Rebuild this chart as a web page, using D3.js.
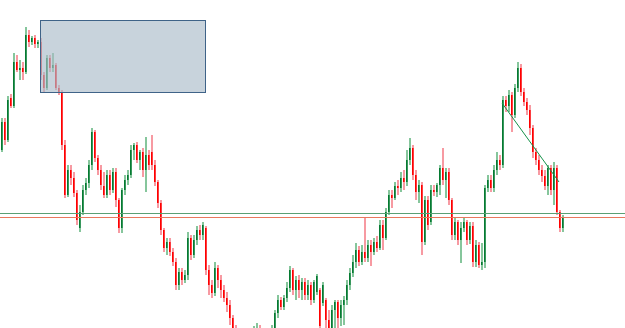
<!DOCTYPE html>
<html>
<head>
<meta charset="utf-8">
<script src="https://cdn.jsdelivr.net/npm/d3@7"></script>
<style>
  html, body { margin: 0; padding: 0; background: #fff; }
  svg { display: block; }
</style>
</head>
<body>
<div id="chart"></div>
<script>
// OHLC per bar, price in points
const open = [250,278,260,302,294,338,330,332,328,365,358,362,356,358,325,312,342,332,335,312,
  308,255,205,230,222,207,172,188,210,217,235,268,242,230,214,205,225,210,228,200,
  172,210,220,225,250,255,240,248,230,245,248,235,218,197,170,152,158,148,138,115,
  128,120,125,162,145,160,170,165,172,130,115,107,132,120,110,102,95,82,72,60,
  55,60,52,55,58,62,65,60,64,60,65,72,87,100,93,102,112,130,110,120,
  110,118,105,115,100,108,110,97,100,80,72,90,98,82,95,100,115,127,138,150,
  138,148,142,155,148,158,152,175,162,188,205,202,214,212,222,218,240,252,225,208,
  215,158,200,178,210,208,215,232,220,228,200,165,178,160,172,178,160,174,138,155,
  135,138,212,220,212,230,240,235,300,294,305,285,312,332,308,298,290,272,248,240,
  230,224,214,232,210,232,188,172]
const close = [278,260,300,294,338,330,332,328,365,358,362,356,358,325,312,342,332,335,312,308,
  255,205,230,222,207,180,188,210,217,235,268,242,230,215,205,225,210,228,200,172,
  210,220,225,250,255,240,248,230,245,235,235,218,197,170,152,158,148,138,115,128,
  120,125,162,145,160,170,165,175,130,115,107,132,120,110,102,95,82,72,60,55,
  60,52,55,58,62,65,60,64,60,65,72,87,100,93,102,112,130,110,120,110,
  118,105,115,100,118,124,74,115,80,72,90,98,82,95,100,115,127,138,150,138,
  148,142,155,148,158,152,175,162,188,205,202,214,212,222,218,240,252,225,208,215,
  158,200,175,210,208,215,232,220,228,200,165,178,160,172,178,160,174,138,155,135,
  138,212,220,212,230,240,235,300,294,305,285,312,332,308,298,290,272,248,240,230,
  224,214,232,210,232,188,172,182]
const high = [282,282,304,306,347,345,340,338,373,370,364,365,360,362,328,345,345,347,337,315,
  310,260,235,235,228,210,195,215,222,240,272,270,245,235,228,230,230,232,232,202,
  212,225,230,255,257,258,250,252,263,250,265,240,220,200,172,162,162,152,142,132,
  132,130,168,165,165,174,175,178,174,135,120,138,135,125,115,108,100,85,75,65,
  64,64,60,65,74,77,75,70,68,70,75,90,105,103,105,118,134,132,124,125,
  122,122,120,118,120,126,112,118,102,90,95,100,100,100,104,120,132,145,157,154,
  155,182,160,160,162,164,180,180,192,210,210,218,220,228,230,250,262,255,230,220,
  218,204,204,215,215,217,235,252,232,232,202,182,180,178,182,180,178,178,160,158,
  157,215,225,225,235,248,245,304,304,310,308,316,338,336,312,302,295,275,252,245,
  235,230,235,235,238,235,190,185]
const low = [248,255,258,292,292,328,320,320,326,353,355,352,352,320,308,310,328,328,310,305,
  250,202,203,215,203,175,168,185,205,212,230,238,225,210,202,202,205,207,193,167,
  167,205,215,222,240,237,230,223,208,230,230,214,192,165,148,145,144,134,110,110,
  115,117,120,140,142,155,160,160,125,105,102,104,112,102,98,88,75,65,55,50,
  48,45,45,50,52,55,55,55,55,55,60,68,82,90,90,98,108,105,100,102,
  100,100,100,95,97,105,70,94,70,65,65,70,72,74,75,95,110,123,132,134,
  135,138,138,134,145,148,150,150,160,185,192,200,205,208,210,214,235,220,200,197,
  145,155,170,175,204,203,205,215,202,195,160,160,155,137,168,155,156,133,133,132,
  130,132,208,208,208,225,230,232,288,288,268,282,308,304,294,285,265,242,235,225,
  218,210,205,205,195,185,168,168]

// horizontal levels
const levelNames = ['support', 'resistance']
const levelValues = [182.7, 186.7]
const levelColors = ['#e8785c', '#5aa074']

// supply zone: bar range and price range
const zoneBars = [13, 68]
const zonePrices = [308, 380]

// trend line: [bar index, price]
const trendPoints = [[167, 297], [186, 218]]

const chartWidth = 625
const chartHeight = 328

const bars = close.map((c, i) => ({ i, o: open[i], h: high[i], l: low[i], c }))

const x = d3.scaleLinear().domain([0, bars.length - 1]).range([1, 562])
const y = d3.scaleLinear().domain([72, 400]).range([chartHeight, 0])

const svg = d3
  .select('#chart')
  .append('svg')
  .attr('width', chartWidth)
  .attr('height', chartHeight)

svg.append('rect')
  .attr('width', chartWidth)
  .attr('height', chartHeight)
  .attr('fill', '#fff')

const up = '#067a32'
const down = '#ff0000'
const upWick = '#86c69c'
const downWick = '#f79aa2'

const candle = svg.append('g').attr('class', 'candles')

candle.selectAll('.wick')
  .data(bars)
  .enter()
  .append('rect')
  .attr('class', 'wick')
  .attr('x', (d) => Math.round(x(d.i)))
  .attr('width', 2)
  .attr('y', (d) => y(d.h))
  .attr('height', (d) => Math.max(1, y(d.l) - y(d.h)))
  .attr('fill', (d) => (d.c >= d.o ? upWick : downWick))

candle.selectAll('.body')
  .data(bars)
  .enter()
  .append('rect')
  .attr('class', 'body')
  .attr('x', (d) => Math.round(x(d.i)))
  .attr('width', 1.6)
  .attr('y', (d) => y(Math.max(d.o, d.c)))
  .attr('height', (d) => Math.max(1, Math.abs(y(d.o) - y(d.c))))
  .attr('fill', (d) => (d.c >= d.o ? up : down))

// levels
svg.selectAll('.level')
  .data(levelValues)
  .enter()
  .append('line')
  .attr('class', 'level')
  .attr('x1', 0)
  .attr('x2', chartWidth)
  .attr('y1', (d) => Math.round(y(d)) + 0.5)
  .attr('y2', (d) => Math.round(y(d)) + 0.5)
  .attr('stroke', (d, i) => levelColors[i])
  .attr('stroke-width', 1)

// zone
svg.append('rect')
  .attr('class', 'zone')
  .attr('x', Math.round(x(zoneBars[0])) + 0.5)
  .attr('y', Math.round(y(zonePrices[1])) + 0.5)
  .attr('width', Math.round(x(zoneBars[1]) - x(zoneBars[0])))
  .attr('height', Math.round(y(zonePrices[0]) - y(zonePrices[1])))
  .attr('fill', 'rgb(170,187,201)')
  .attr('fill-opacity', 0.65)
  .attr('stroke', '#3f6388')
  .attr('stroke-width', 1)

// trend line
svg.append('path')
  .attr('d', d3.line().x((d) => x(d[0])).y((d) => y(d[1]))(trendPoints))
  .attr('fill', 'none')
  .attr('stroke', '#16914a')
  .attr('stroke-width', 1)
</script>
</body>
</html>
